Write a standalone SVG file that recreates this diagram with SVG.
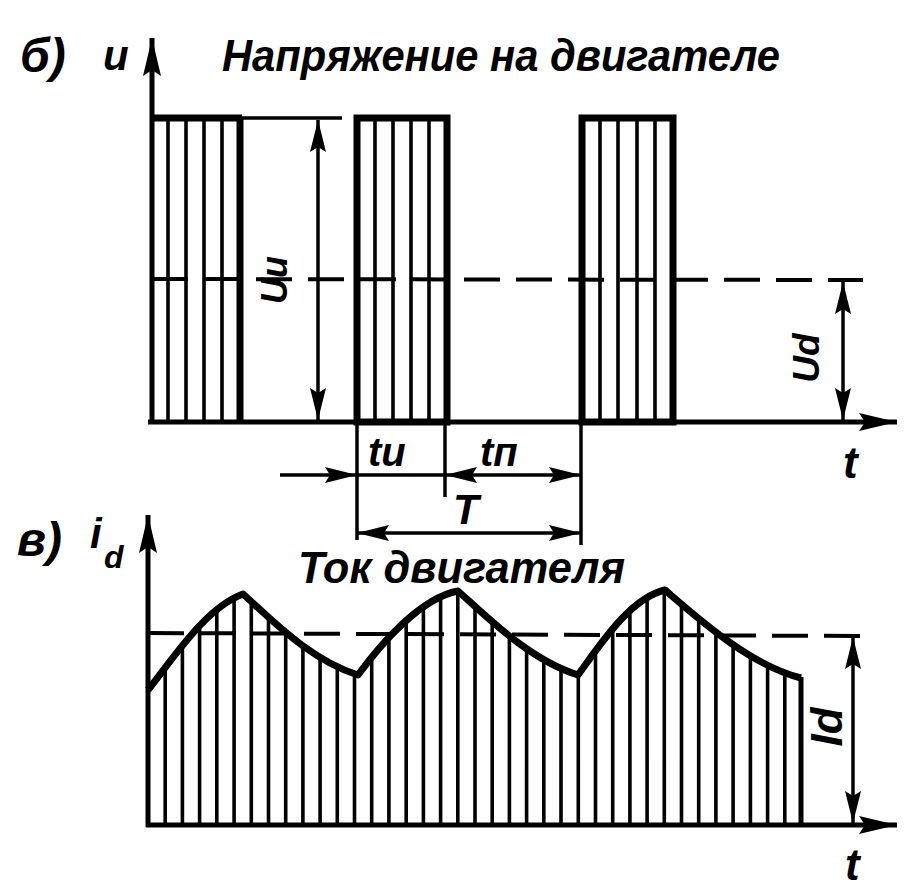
<svg xmlns="http://www.w3.org/2000/svg" width="905" height="889" viewBox="0 0 905 889">
<style>
.ax{stroke:#000;stroke-width:5;fill:none}
.thick{stroke:#000;stroke-width:7;fill:none}
.hatch{stroke:#000;stroke-width:3.6;fill:none}
.thin{stroke:#000;stroke-width:3.5;fill:none}
.dash{stroke:#000;stroke-width:4;fill:none;stroke-dasharray:36 16}
.dim{stroke:#000;stroke-width:3.5;fill:none}
.lbl{font-family:"Liberation Sans","DejaVu Sans",sans-serif;font-weight:bold;font-style:italic;fill:#000}
</style>
<defs>
<marker id="axarr" viewBox="-40 -11 42 22" refX="0" refY="0" markerWidth="42" markerHeight="22" markerUnits="userSpaceOnUse" orient="auto">
<path d="M0,0 L-38,-9 L-32,0 L-38,9 Z" fill="#000"/>
</marker>
<marker id="darr" viewBox="-34 -10 36 20" refX="0" refY="0" markerWidth="36" markerHeight="20" markerUnits="userSpaceOnUse" orient="auto-start-reverse">
<path d="M0,0 L-32,-8 L-27,0 L-32,8 Z" fill="#000"/>
</marker>
<clipPath id="under">
<path d="M148,690 C172,660 205,608 243,594 C272,620 310,660 358,675 C380,645 420,598 458,591 C488,618 530,660 578,675 C600,645 630,598 665,590 C700,620 750,665 801,678 L801,825 L148,825 Z"/>
</clipPath>
</defs>
<rect width="905" height="889" fill="#fff"/>

<g id="labels-top">
<text class="lbl" x="20" y="72" font-size="48">б)</text>
<text class="lbl" x="103" y="70" font-size="42">u</text>
<text class="lbl" x="222" y="71" font-size="44" textLength="558" lengthAdjust="spacingAndGlyphs">Напряжение на двигателе</text>
<text class="lbl" x="843" y="478" font-size="44">t</text>
<text class="lbl" x="368" y="466" font-size="40">tи</text>
<text class="lbl" x="480" y="466" font-size="40">tп</text>
<text class="lbl" x="453" y="524" font-size="42">T</text>
<text class="lbl" font-size="36" text-anchor="middle" transform="translate(287,280) rotate(-90)">Uи</text>
<text class="lbl" font-size="37" text-anchor="middle" transform="translate(819,358) rotate(-90)">Ud</text>
</g>

<g id="axes-top">
<line class="ax" x1="152" y1="422" x2="152" y2="38" marker-end="url(#axarr)"/>
<line class="ax" x1="148" y1="422" x2="897" y2="422" marker-end="url(#axarr)"/>
<line class="dash" x1="152" y1="279" x2="863" y2="280"/>
</g>

<g id="pulse-1">
<line class="thin" x1="150" y1="118" x2="342" y2="118"/>
<line class="thick" x1="150" y1="118" x2="242" y2="118"/>
<line class="thick" x1="240" y1="118" x2="240" y2="422"/>
<line class="hatch" x1="168" y1="118" x2="168" y2="422"/>
<line class="hatch" x1="186" y1="118" x2="186" y2="422"/>
<line class="hatch" x1="204" y1="118" x2="204" y2="422"/>
<line class="hatch" x1="222" y1="118" x2="222" y2="422"/>
</g>

<g id="pulse-2">
<rect class="thick" x="357" y="118" width="90" height="304"/>
<line class="hatch" x1="375" y1="118" x2="375" y2="422"/>
<line class="hatch" x1="393" y1="118" x2="393" y2="422"/>
<line class="hatch" x1="411" y1="118" x2="411" y2="422"/>
<line class="hatch" x1="429" y1="118" x2="429" y2="422"/>
</g>

<g id="pulse-3">
<rect class="thick" x="582" y="118" width="91" height="304"/>
<line class="hatch" x1="600" y1="118" x2="600" y2="422"/>
<line class="hatch" x1="618" y1="118" x2="618" y2="422"/>
<line class="hatch" x1="637" y1="118" x2="637" y2="422"/>
<line class="hatch" x1="655" y1="118" x2="655" y2="422"/>
</g>

<g id="connectors">
<line class="dim" x1="318" y1="120" x2="318" y2="420" marker-start="url(#darr)" marker-end="url(#darr)"/>
<line class="dim" x1="843" y1="282" x2="843" y2="420" marker-start="url(#darr)" marker-end="url(#darr)"/>
<line class="thin" x1="357" y1="422" x2="357" y2="540"/>
<line class="thin" x1="445" y1="422" x2="445" y2="497"/>
<line class="thin" x1="581" y1="422" x2="581" y2="545"/>
<line class="dim" x1="280" y1="475" x2="357" y2="475" marker-end="url(#darr)"/>
<line class="dim" x1="357" y1="475" x2="445" y2="475"/>
<line class="dim" x1="445" y1="475" x2="581" y2="475" marker-start="url(#darr)" marker-end="url(#darr)"/>
<line class="dim" x1="357" y1="533" x2="581" y2="533" marker-start="url(#darr)" marker-end="url(#darr)"/>
<line class="dim" x1="853" y1="637" x2="853" y2="823" marker-start="url(#darr)" marker-end="url(#darr)"/>
</g>

<g id="labels-bottom">
<text class="lbl" x="17" y="556" font-size="48">в)</text>
<text class="lbl" x="90" y="548" font-size="42">i</text>
<text class="lbl" x="104" y="568" font-size="32">d</text>
<text class="lbl" x="298" y="583" font-size="44" textLength="327" lengthAdjust="spacingAndGlyphs">Ток двигателя</text>
<text class="lbl" x="845" y="880" font-size="44">t</text>
<text class="lbl" font-size="44" text-anchor="middle" transform="translate(842,727) rotate(-90)">Id</text>
</g>

<g id="current-wave">
<g clip-path="url(#under)" class="hatch">
<path d="M165.2,585V825M182.4,585V825M199.6,585V825M216.8,585V825M234.1,585V825M251.3,585V825M268.5,585V825M285.7,585V825M302.9,585V825M320.1,585V825M337.3,585V825M354.5,585V825M371.7,585V825M388.9,585V825M406.2,585V825M423.4,585V825M440.6,585V825M457.8,585V825M475,585V825M492.2,585V825M509.4,585V825M526.6,585V825M543.8,585V825M561,585V825M578.3,585V825M595.5,585V825M612.7,585V825M629.9,585V825M647.1,585V825M664.3,585V825M681.5,585V825M698.7,585V825M715.9,585V825M733.1,585V825M750.4,585V825M767.6,585V825M784.8,585V825"/>
</g>
<line class="ax" x1="801" y1="677" x2="801" y2="825"/>
<path d="M148,690 C172,660 205,608 243,594 C272,620 310,660 358,675 C380,645 420,598 458,591 C488,618 530,660 578,675 C600,645 630,598 665,590 C700,620 750,665 801,678" fill="none" stroke="#000" stroke-width="7" stroke-linejoin="round"/>
</g>

<g id="axes-bottom">
<line class="dash" x1="148" y1="633" x2="860" y2="636"/>
<line class="ax" x1="148" y1="827" x2="148" y2="515" marker-end="url(#axarr)"/>
<line class="ax" x1="146" y1="825" x2="897" y2="825" marker-end="url(#axarr)"/>
</g>
</svg>
